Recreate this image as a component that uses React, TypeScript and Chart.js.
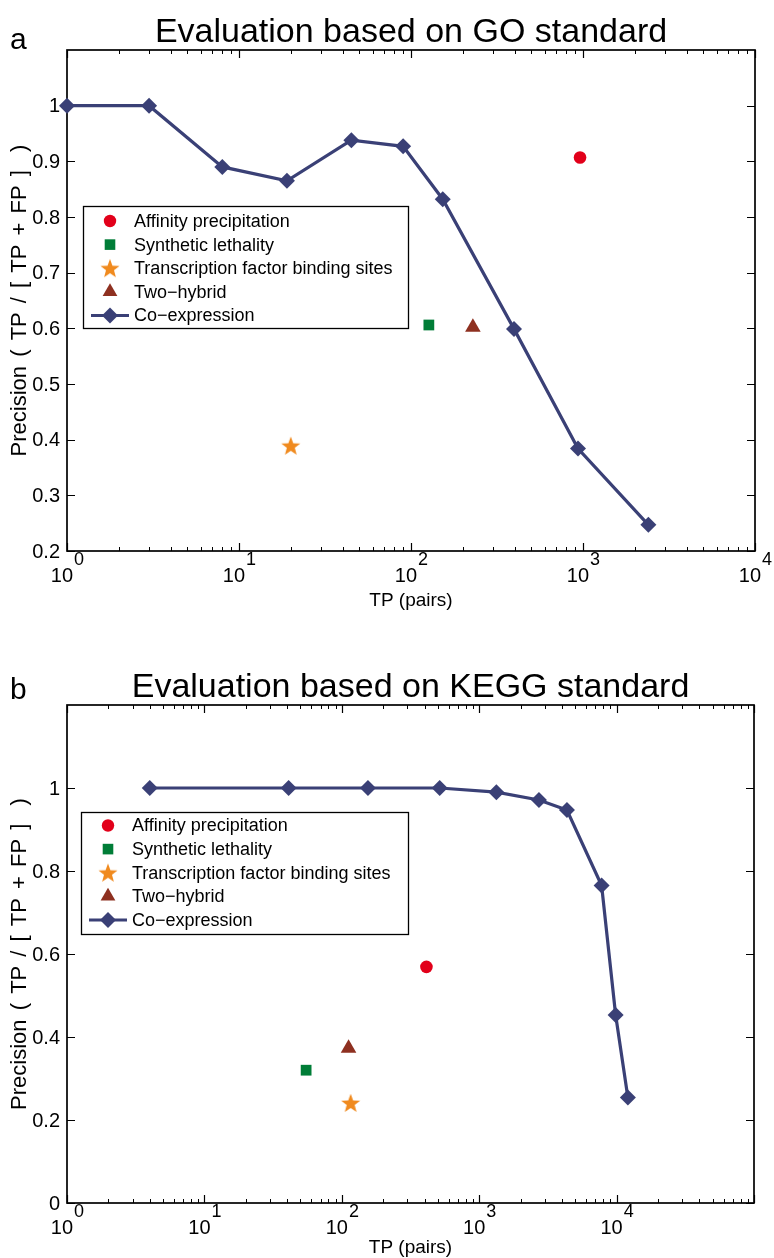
import React, { useEffect, useRef } from "react";
import { Chart, registerables } from "chart.js";

Chart.register(...registerables);

const FONT = '"Liberation Sans", Arial, Helvetica, sans-serif';
const W = 774;
const H = 629;

// ---------- Panel a : GO standard ----------
const goCoexpressionTP = [1, 3, 8, 19, 45, 90, 153, 397, 935, 2400];
const goCoexpressionPrecision = [1.0, 1.0, 0.89, 0.865, 0.938, 0.927, 0.832, 0.599, 0.384, 0.247];
const goAffinityTP = [961];
const goAffinityPrecision = [0.907];
const goSyntheticTP = [127];
const goSyntheticPrecision = [0.606];
const goTfbsTP = [20];
const goTfbsPrecision = [0.389];
const goTwoHybridTP = [229];
const goTwoHybridPrecision = [0.602];
const goYTicks = [0.2, 0.3, 0.4, 0.5, 0.6, 0.7, 0.8, 0.9, 1];
const goYTickLabels = ["0.2", "0.3", "0.4", "0.5", "0.6", "0.7", "0.8", "0.9", "1"];

// ---------- Panel b : KEGG standard ----------
const keggCoexpressionTP = [4, 41, 155, 516, 1334, 2720, 4350, 7780, 9840, 12080];
const keggCoexpressionPrecision = [1.0, 1.0, 1.0, 1.0, 0.99, 0.971, 0.947, 0.765, 0.453, 0.254];
const keggAffinityTP = [413];
const keggAffinityPrecision = [0.569];
const keggSyntheticTP = [55];
const keggSyntheticPrecision = [0.32];
const keggTfbsTP = [116];
const keggTfbsPrecision = [0.241];
const keggTwoHybridTP = [112];
const keggTwoHybridPrecision = [0.373];
const keggYTicks = [0, 0.2, 0.4, 0.6, 0.8, 1];
const keggYTickLabels = ["0", "0.2", "0.4", "0.6", "0.8", "1"];

const xTickExponents = [0, 1, 2, 3, 4];
const seriesNames = [
  "Affinity precipitation",
  "Synthetic lethality",
  "Transcription factor binding sites",
  "Two\u2212hybrid",
  "Co\u2212expression",
];
const xAxisTitle = "TP (pairs)";
const yAxisTitle = "Precision ( TP / [ TP + FP ]  )";

const COLORS = {
  affinity: "rgb(226,0,26)",
  synthetic: "rgb(0,125,55)",
  tfbs: "rgb(240,138,30)",
  twoHybrid: "rgb(142,48,32)",
  coexpression: "rgb(58,64,118)",
};

function makeStar(color: string, R: number) {
  const size = Math.ceil(R * 2 + 2);
  const c = document.createElement("canvas");
  c.width = size;
  c.height = size;
  const g = c.getContext("2d")!;
  const cx = size / 2;
  const cy = size / 2 + R * 0.08;
  g.beginPath();
  for (let i = 0; i < 10; i++) {
    const r = i % 2 === 0 ? R : R * 0.42;
    const ang = -Math.PI / 2 + (i * Math.PI) / 5;
    const px = cx + r * Math.cos(ang);
    const py = cy + r * Math.sin(ang);
    if (i === 0) g.moveTo(px, py);
    else g.lineTo(px, py);
  }
  g.closePath();
  g.fillStyle = color;
  g.fill();
  return c;
}

function pts(xs: number[], ys: number[]) {
  return xs.map((x, i) => ({ x, y: ys[i] }));
}

function drawLegendMarker(ctx: CanvasRenderingContext2D, idx: number, x: number, y: number, star: HTMLCanvasElement) {
  ctx.save();
  if (idx === 0) {
    ctx.fillStyle = COLORS.affinity;
    ctx.beginPath();
    ctx.arc(x, y, 6.2, 0, Math.PI * 2);
    ctx.fill();
  } else if (idx === 1) {
    ctx.fillStyle = COLORS.synthetic;
    ctx.fillRect(x - 5.3, y - 5.3, 10.6, 10.6);
  } else if (idx === 2) {
    ctx.drawImage(star, x - star.width / 2, y - star.height / 2);
  } else if (idx === 3) {
    const r = 8.5;
    ctx.fillStyle = COLORS.twoHybrid;
    ctx.beginPath();
    ctx.moveTo(x, y - r);
    ctx.lineTo(x + r * Math.sin((2 * Math.PI) / 3), y - r * Math.cos((2 * Math.PI) / 3));
    ctx.lineTo(x - r * Math.sin((2 * Math.PI) / 3), y - r * Math.cos((2 * Math.PI) / 3));
    ctx.closePath();
    ctx.fill();
  } else {
    ctx.strokeStyle = COLORS.coexpression;
    ctx.lineWidth = 3;
    ctx.beginPath();
    ctx.moveTo(x - 19, y);
    ctx.lineTo(x + 19, y);
    ctx.stroke();
    ctx.fillStyle = COLORS.coexpression;
    const r = 8;
    ctx.beginPath();
    ctx.moveTo(x - r, y);
    ctx.lineTo(x, y - r);
    ctx.lineTo(x + r, y);
    ctx.lineTo(x, y + r);
    ctx.closePath();
    ctx.fill();
  }
  ctx.restore();
}

const decorPlugin = {
  id: "decor",
  beforeDatasetsDraw(chart: any, _args: any, opts: any) {
    const { ctx, chartArea: a, scales } = chart;
    const xs = scales.x;
    const ys = scales.y;
    ctx.save();
    ctx.strokeStyle = "#000";
    // minor x ticks
    ctx.lineWidth = 1;
    ctx.beginPath();
    for (let e = 0; e < opts.xMaxExp; e++) {
      for (let k = 2; k <= 9; k++) {
        const px = Math.round(xs.getPixelForValue(k * Math.pow(10, e))) + 0.5;
        ctx.moveTo(px, a.bottom);
        ctx.lineTo(px, a.bottom - 4);
        ctx.moveTo(px, a.top);
        ctx.lineTo(px, a.top + 4);
      }
    }
    ctx.stroke();
    // major ticks
    ctx.lineWidth = 1.2;
    ctx.beginPath();
    for (let e = 0; e <= opts.xMaxExp; e++) {
      const px = Math.round(xs.getPixelForValue(Math.pow(10, e))) + 0.5;
      ctx.moveTo(px, a.bottom);
      ctx.lineTo(px, a.bottom - 8);
      ctx.moveTo(px, a.top);
      ctx.lineTo(px, a.top + 8);
    }
    for (const v of opts.yTicks) {
      const py = Math.round(ys.getPixelForValue(v)) + 0.5;
      ctx.moveTo(a.left, py);
      ctx.lineTo(a.left + 8, py);
      ctx.moveTo(a.right, py);
      ctx.lineTo(a.right - 8, py);
    }
    ctx.stroke();
    // frame
    ctx.lineWidth = 1.7;
    ctx.strokeRect(a.left, a.top, a.right - a.left, a.bottom - a.top);
    ctx.restore();
  },
  afterDraw(chart: any, _args: any, opts: any) {
    const { ctx, chartArea: a, scales } = chart;
    const xs = scales.x;
    const ys = scales.y;
    const cx = (a.left + a.right) / 2;
    const cy = (a.top + a.bottom) / 2;
    ctx.save();
    ctx.fillStyle = "#000";
    // title + panel letter
    ctx.font = `34px ${FONT}`;
    ctx.textAlign = "center";
    ctx.textBaseline = "alphabetic";
    ctx.fillText(opts.title, cx, opts.titleBaseline);
    ctx.font = `30px ${FONT}`;
    ctx.textAlign = "left";
    ctx.fillText(opts.letter, 10, opts.letterBaseline);
    // y tick labels
    ctx.font = `20px ${FONT}`;
    ctx.textAlign = "right";
    ctx.textBaseline = "middle";
    opts.yTicks.forEach((v: number, i: number) => {
      ctx.fillText(opts.yTickLabels[i], a.left - 7, ys.getPixelForValue(v) + 1);
    });
    // x tick labels 10^n
    ctx.textBaseline = "alphabetic";
    ctx.textAlign = "left";
    for (const e of opts.xExps) {
      const px = xs.getPixelForValue(Math.pow(10, e));
      ctx.font = `20px ${FONT}`;
      const w10 = ctx.measureText("10").width;
      ctx.font = `18px ${FONT}`;
      const we = ctx.measureText(String(e)).width;
      const start = px - (w10 + we) / 2;
      ctx.font = `20px ${FONT}`;
      ctx.fillText("10", start, a.bottom + 31);
      ctx.font = `18px ${FONT}`;
      ctx.fillText(String(e), start + w10 + 1, a.bottom + 14);
    }
    // axis titles
    ctx.font = `19px ${FONT}`;
    ctx.textAlign = "center";
    ctx.fillText(xAxisTitle, cx, a.bottom + opts.xTitleOffset);
    ctx.save();
    ctx.translate(26, cy);
    ctx.rotate(-Math.PI / 2);
    ctx.font = `22px ${FONT}`;
    (ctx as any).wordSpacing = "3px";
    ctx.fillText(yAxisTitle, 0, 0);
    ctx.restore();
    // legend
    const [l, t, r, b] = opts.legendBox;
    ctx.fillStyle = "#fff";
    ctx.fillRect(l, t, r - l, b - t);
    ctx.strokeStyle = "#000";
    ctx.lineWidth = 1.3;
    ctx.strokeRect(l + 0.5, t + 0.5, r - l, b - t);
    ctx.font = `18px ${FONT}`;
    ctx.textAlign = "left";
    ctx.textBaseline = "middle";
    seriesNames.forEach((name, i) => {
      const yy = t + opts.legendFirst + i * 23.6;
      drawLegendMarker(ctx, i, l + 27, yy, opts.star);
      ctx.fillStyle = "#000";
      ctx.fillText(name, l + 51, yy + 1);
    });
    ctx.restore();
  },
};

type PanelSpec = {
  coTP: number[];
  coP: number[];
  afTP: number[];
  afP: number[];
  slTP: number[];
  slP: number[];
  tfTP: number[];
  tfP: number[];
  thTP: number[];
  thP: number[];
  yMin: number;
  yMax: number;
  xMaxExp: number;
  yTicks: number[];
  yTickLabels: string[];
  title: string;
  letter: string;
  titleBaseline: number;
  letterBaseline: number;
  xTitleOffset: number;
  padding: { left: number; right: number; top: number; bottom: number };
  legendBox: number[];
  legendFirst: number;
};

function buildConfig(p: PanelSpec, star: HTMLCanvasElement): any {
  const common = { showLine: false, clip: false, pointBorderWidth: 0, pointHoverRadius: 0 };
  return {
    type: "scatter",
    data: {
      datasets: [
        {
          ...common,
          label: seriesNames[0],
          data: pts(p.afTP, p.afP),
          pointStyle: "circle",
          pointRadius: 6.3,
          backgroundColor: COLORS.affinity,
          borderColor: COLORS.affinity,
        },
        {
          ...common,
          label: seriesNames[1],
          data: pts(p.slTP, p.slP),
          pointStyle: "rect",
          pointRadius: 7.6,
          backgroundColor: COLORS.synthetic,
          borderColor: COLORS.synthetic,
        },
        {
          ...common,
          label: seriesNames[2],
          data: pts(p.tfTP, p.tfP),
          pointStyle: star,
          pointRadius: 10,
          backgroundColor: COLORS.tfbs,
          borderColor: COLORS.tfbs,
        },
        {
          ...common,
          label: seriesNames[3],
          data: pts(p.thTP, p.thP),
          pointStyle: "triangle",
          pointRadius: 9,
          backgroundColor: COLORS.twoHybrid,
          borderColor: COLORS.twoHybrid,
        },
        {
          ...common,
          label: seriesNames[4],
          data: pts(p.coTP, p.coP),
          showLine: true,
          tension: 0,
          borderWidth: 3.2,
          pointStyle: "rectRot",
          pointRadius: 8,
          backgroundColor: COLORS.coexpression,
          borderColor: COLORS.coexpression,
        },
      ],
    },
    options: {
      animation: false,
      responsive: false,
      maintainAspectRatio: false,
      events: [],
      layout: { padding: p.padding },
      scales: {
        x: { type: "logarithmic", min: 1, max: Math.pow(10, p.xMaxExp), display: false },
        y: { type: "linear", min: p.yMin, max: p.yMax, display: false },
      },
      plugins: {
        legend: { display: false },
        tooltip: { enabled: false },
        title: { display: false },
        decor: {
          xMaxExp: p.xMaxExp,
          xExps: xTickExponents,
          yTicks: p.yTicks,
          yTickLabels: p.yTickLabels,
          title: p.title,
          letter: p.letter,
          titleBaseline: p.titleBaseline,
          letterBaseline: p.letterBaseline,
          xTitleOffset: p.xTitleOffset,
          legendBox: p.legendBox,
          legendFirst: p.legendFirst,
          star,
        },
      },
    },
    plugins: [decorPlugin],
  };
}

const panelA: PanelSpec = {
  coTP: goCoexpressionTP,
  coP: goCoexpressionPrecision,
  afTP: goAffinityTP,
  afP: goAffinityPrecision,
  slTP: goSyntheticTP,
  slP: goSyntheticPrecision,
  tfTP: goTfbsTP,
  tfP: goTfbsPrecision,
  thTP: goTwoHybridTP,
  thP: goTwoHybridPrecision,
  yMin: 0.2,
  yMax: 1.1,
  xMaxExp: 4,
  yTicks: goYTicks,
  yTickLabels: goYTickLabels,
  title: "Evaluation based on GO standard",
  letter: "a",
  titleBaseline: 42,
  letterBaseline: 49,
  xTitleOffset: 55,
  padding: { left: 67, right: 19, top: 50, bottom: 78 },
  legendBox: [83, 206, 408, 328],
  legendFirst: 15,
};

const panelB: PanelSpec = {
  coTP: keggCoexpressionTP,
  coP: keggCoexpressionPrecision,
  afTP: keggAffinityTP,
  afP: keggAffinityPrecision,
  slTP: keggSyntheticTP,
  slP: keggSyntheticPrecision,
  tfTP: keggTfbsTP,
  tfP: keggTfbsPrecision,
  thTP: keggTwoHybridTP,
  thP: keggTwoHybridPrecision,
  yMin: 0,
  yMax: 1.2,
  xMaxExp: 5,
  yTicks: keggYTicks,
  yTickLabels: keggYTickLabels,
  title: "Evaluation based on KEGG standard",
  letter: "b",
  titleBaseline: 68,
  letterBaseline: 70,
  xTitleOffset: 50,
  padding: { left: 67, right: 20, top: 76, bottom: 55 },
  legendBox: [81, 183, 408, 305],
  legendFirst: 13.5,
};

function Panel({ spec, top }: { spec: PanelSpec; top: number }) {
  const ref = useRef<HTMLCanvasElement>(null);
  useEffect(() => {
    const star = makeStar(COLORS.tfbs, 10);
    const chart = new Chart(ref.current!, buildConfig(spec, star));
    return () => chart.destroy();
  }, [spec]);
  return (
    <canvas
      ref={ref}
      width={W}
      height={H}
      style={{ position: "absolute", left: 0, top, width: W, height: H, display: "block" }}
    />
  );
}

export default function App() {
  return (
    <div style={{ position: "absolute", left: 0, top: 0, width: W, height: 2 * H, background: "#fff" }}>
      <Panel spec={panelA} top={0} />
      <Panel spec={panelB} top={H} />
    </div>
  );
}
